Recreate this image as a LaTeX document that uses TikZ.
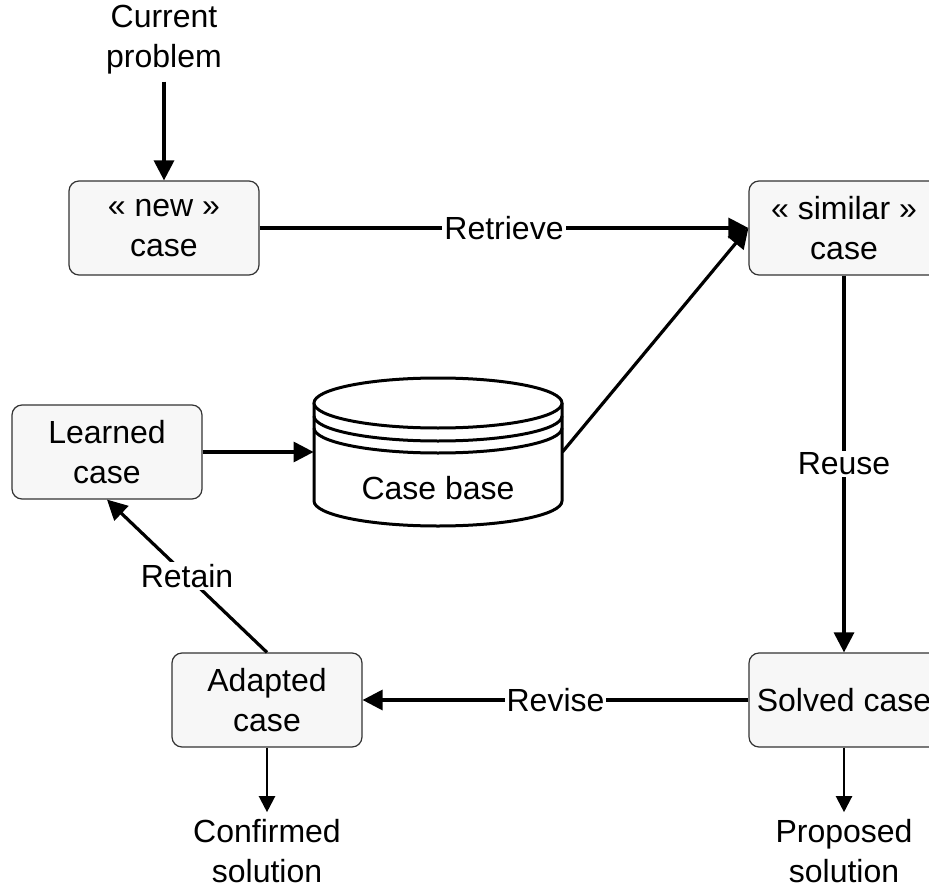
\documentclass[tikz,border=0pt]{standalone}
\usepackage{fontspec}
\setmainfont{Liberation Sans}
\usetikzlibrary{arrows.meta,positioning}

\tikzset{
  casebox/.style={draw=black!80,fill=black!3,rounded corners=5pt,line width=0.6pt,
                  minimum width=95pt,minimum height=47pt,align=center,inner sep=2pt},
  flow/.style={-{Triangle[length=10pt,width=10pt]},line width=1.6pt},
  thinflow/.style={-{Triangle[length=8pt,width=8pt]},line width=1.1pt},
  steplabel/.style={fill=white,inner sep=1pt},
}

\begin{document}
\begin{tikzpicture}[x=0.5pt,y=-0.5pt,font=\fontsize{16}{20}\selectfont]

    \useasboundingbox (0,0) rectangle (929,892);

    % ── CASOS ─────────────────────────────────────────────
    \node[casebox] (new)     at (164,228) {« new »\\case};
    \node[casebox] (similar) at (844,228) {« similar »\\case};
    \node[casebox] (learned) at (107,452) {Learned\\case};
    \node[casebox] (adapted) at (267,700) {Adapted\\case};
    \node[casebox] (solved)  at (844,700) {Solved case};

    % ── TEXTOS SOLTOS ─────────────────────────────────────
    \node[align=center] (problem)   at (164,40)  {Current\\problem};
    \node[align=center] (confirmed) at (267,851) {Confirmed\\solution};
    \node[align=center] (proposed)  at (844,851) {Proposed\\solution};

    % ── BASE DE CASOS (cilindro) ──────────────────────────
    \node[minimum width=124pt,minimum height=74pt] (base) at (438,452) {};
    \draw[line width=1.5pt,fill=white]
      (314,403) -- (314,501)
      arc[start angle=180,end angle=0,x radius=124,y radius=25]
      -- (562,403);
    \draw[line width=1.5pt,fill=white] (438,403) ellipse[x radius=124,y radius=25];
    \draw[line width=1.5pt]
      (314,416) arc[start angle=180,end angle=0,x radius=124,y radius=25];
    \draw[line width=1.5pt]
      (314,428) arc[start angle=180,end angle=0,x radius=124,y radius=25];
    \node (baselabel) at (438,488) {Case base};

    % ── SETAS ─────────────────────────────────────────────
    \draw[flow] (problem) -- (new);
    \draw[flow] (new) -- node[steplabel]{Retrieve} (similar);
    \draw[flow] (base.east) -- (similar.west);
    \draw[flow] (learned) -- (base.west);
    \draw[flow] (similar) -- node[steplabel]{Reuse} (solved);
    \draw[flow] (solved) -- node[steplabel]{Revise} (adapted);
    \draw[flow] (adapted.north) -- node[steplabel]{Retain} (learned.south);
    \draw[thinflow] (adapted) -- (confirmed);
    \draw[thinflow] (solved) -- (proposed);

\end{tikzpicture}
\end{document}
